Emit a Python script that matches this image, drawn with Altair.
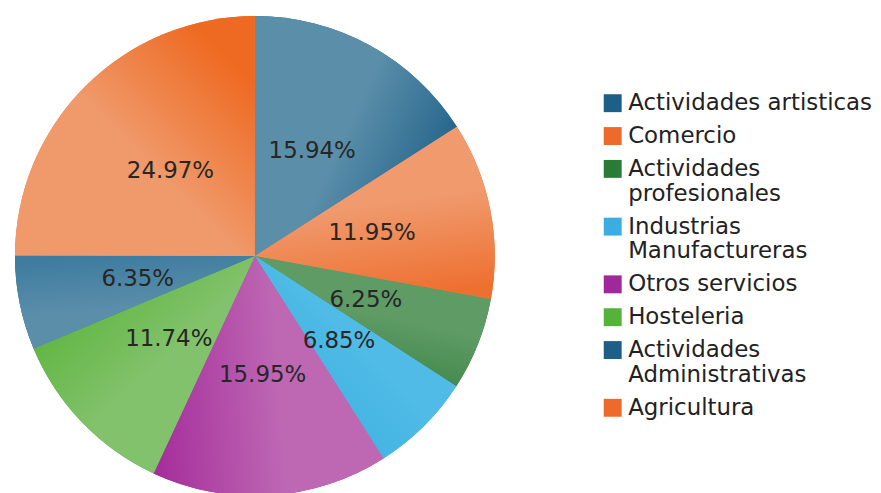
import math
import altair as alt
import numpy as np
import pandas as pd

categories = [
    "Actividades artisticas",
    "Comercio",
    "Actividades profesionales",
    "Industrias Manufactureras",
    "Otros servicios",
    "Hosteleria",
    "Actividades Administrativas",
    "Agricultura",
]
values = [15.94, 11.95, 6.25, 6.85, 15.95, 11.74, 6.35, 24.97]
legend_colors = ["#1d5f86", "#ee6a2a", "#2a7a38", "#3aaee2", "#a0289a", "#55b23a", "#1d5f86", "#ee6a2a"]
light_colors = ["#5a8ea9", "#f09a6e", "#5e9b65", "#4fbbe6", "#be68b4", "#82c26c", "#5a8ea9", "#f09a6c"]
dark_colors = ["#1f6088", "#ee7030", "#3a8445", "#3cb0e0", "#a62f9b", "#5cb43c", "#3f7ca0", "#ee6a22"]

cum = np.cumsum(values)
start = cum - np.array(values)
df = pd.DataFrame({
    "cat": categories,
    "value": values,
    "start": start,
    "end": cum,
    "mid": (start + cum) / 2,
    "idx": list(range(len(values))),
})
df["label"] = [f"{v:.2f}%" for v in values]

R = 241
theta_scale = alt.Scale(domain=[0, 100], range=[0, 2 * math.pi])

base = alt.Chart(df).mark_arc(radius=R, stroke=None).encode(
    theta=alt.Theta("start:Q", scale=theta_scale),
    theta2="end:Q",
    color=alt.Color(
        "cat:N",
        scale=alt.Scale(domain=categories, range=legend_colors),
        sort=None,
        legend=alt.Legend(
            title=None,
            orient="none",
            legendX=589,
            legendY=76,
            symbolType="square",
            symbolSize=324,
            symbolStrokeWidth=0,
            labelFont="DejaVu Sans",
            labelFontSize=23,
            labelColor="#222222",
            labelLimit=400,
            labelOffset=4,
            rowPadding=9,
            padding=0,
            labelExpr="length(datum.label) > 22 ? split(datum.label, ' ') : datum.label",
        ),
    ),
)

layers = [base]
for i, name in enumerate(categories):
    phi = 2 * math.pi * df["mid"][i] / 100
    dx, dy = math.cos(phi), math.sin(phi)
    grad = alt.LinearGradient(
        gradient="linear",
        stops=[
            alt.GradientStop(color=light_colors[i], offset=0),
            alt.GradientStop(color=light_colors[i], offset=0.45),
            alt.GradientStop(color=dark_colors[i], offset=1),
        ],
        x1=0.5 - 0.5 * dx,
        y1=0.5 - 0.5 * dy,
        x2=0.5 + 0.5 * dx,
        y2=0.5 + 0.5 * dy,
    )
    layers.append(
        alt.Chart(df)
        .transform_filter(alt.datum.cat == name)
        .mark_arc(radius=R, color=grad)
        .encode(theta=alt.Theta("start:Q", scale=theta_scale), theta2="end:Q")
    )

text = alt.Chart(df).mark_text(
    radius=120, font="DejaVu Sans", fontSize=23, color="#262626"
).encode(
    theta=alt.Theta("mid:Q", scale=theta_scale),
    text="label:N",
)
layers.append(text)

chart = alt.layer(*layers).properties(
    width=482,
    height=482,
    padding={"left": 7, "top": 7, "right": 0, "bottom": 0},
).configure_view(stroke=None)

chart.save("out.html", embed_options={"renderer": "svg", "actions": False})
